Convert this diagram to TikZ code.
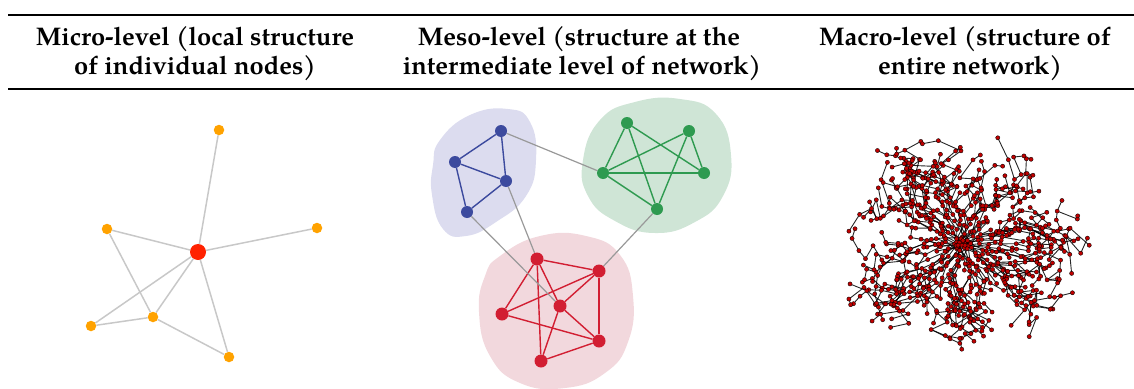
\documentclass[tikz,border=0pt]{standalone}
\usepackage{fontspec}
\setmainfont{texgyrepagella}[Extension=.otf,UprightFont=*-regular,BoldFont=*-bold]
\definecolor{orn}{HTML}{FFA200}
\definecolor{hub}{HTML}{FF2200}
\definecolor{ledge}{HTML}{C8C8C8}
\definecolor{bnode}{HTML}{3C4A9E}
\definecolor{gnode}{HTML}{2E9A50}
\definecolor{rnode}{HTML}{D21E32}
\definecolor{bblob}{HTML}{DCDCEF}
\definecolor{gblob}{HTML}{CFE5D6}
\definecolor{rblob}{HTML}{F2D8DD}
\definecolor{mdot}{HTML}{C00000}
\pgfdeclarelayer{blob}
\pgfdeclarelayer{bg}
\pgfsetlayers{blob,bg,main}
\newcount\mN \newcount\mPs \newcount\mPe \newcount\mNs
\tikzset{
  hdr/.style={font=\bfseries\fontsize{25.5}{30}\selectfont, inner sep=0pt, anchor=base},
  rulel/.style={line width=2.7pt},
  odot/.style={circle, fill=orn, inner sep=0pt, minimum size=10.5pt},
  hdot/.style={circle, fill=hub, inner sep=0pt, minimum size=16pt},
  gedge/.style={ledge, line width=1.5pt},
  bdot/.style={circle, fill=bnode, inner sep=0pt, minimum size=12pt},
  gdot/.style={circle, fill=gnode, inner sep=0pt, minimum size=12pt},
  rdot/.style={circle, fill=rnode, inner sep=0pt, minimum size=13pt},
  bedge/.style={bnode, line width=1.4pt},
  grnedge/.style={gnode, line width=1.4pt},
  redge/.style={rnode, line width=1.4pt},
  xedge/.style={gray!80, line width=1.2pt},
  medge/.style={black, line width=0.9pt, opacity=0.85},
  mnode/.style={fill=mdot, draw=black, line width=0.35pt},
}
\begin{document}
\begin{tikzpicture}[x=1pt,y=-1pt]
\useasboundingbox (0,0) rectangle (1134,388);
% ---------- header ----------
\draw[rulel] (8,15) coordinate (rt1) -- (1134,15) coordinate (rt2);
\draw[rulel] (8,89) coordinate (rb1) -- (1134,89) coordinate (rb2);
\node[hdr] (h1a) at (195,45) {Micro-level (local structure};
\node[hdr] (h1b) at (195,74) {of individual nodes)};
\node[hdr] (h2a) at (579,45) {Meso-level (structure at the};
\node[hdr] (h2b) at (582,74) {intermediate level of network)};
\node[hdr] (h3a) at (965,45) {Macro-level (structure of};
\node[hdr] (h3b) at (970,74) {entire network)};
% ---------- micro ----------
\node[hdot] (c) at (198,252) {};
\node[odot] (t) at (219,130) {};
\node[odot] (r) at (317,228) {};
\node[odot] (l) at (107,229) {};
\node[odot] (bl) at (91,326) {};
\node[odot] (ml) at (153,317) {};
\node[odot] (br) at (229,357) {};
\begin{pgfonlayer}{bg}
\foreach \a/\b in {c/t,c/r,c/l,c/bl,c/ml,c/br,l/ml,bl/ml,ml/br}
  \draw[gedge] (\a) -- (\b);
\end{pgfonlayer}
% ---------- meso ----------
\begin{pgfonlayer}{blob}
\fill[bblob] plot[smooth cycle, tension=0.8] coordinates {(440,140) (470,115) (508,109) (530,122) (536,160) (526,196) (496,222) (466,236) (443,229) (432,195) (433,165)};
\fill[gblob] plot[smooth cycle, tension=0.8] coordinates {(600,120) (635,102) (680,99) (716,114) (731,155) (723,196) (695,222) (655,233) (615,221) (588,196) (583,160)};
\fill[rblob] plot[smooth cycle, tension=0.8] coordinates {(500,256) (540,236) (586,236) (620,255) (633,296) (628,342) (605,373) (565,388) (520,383) (490,356) (479,312) (485,276)};
\end{pgfonlayer}
\node[bdot] (b1) at (501,131) {};
\node[bdot] (b2) at (455,162) {};
\node[bdot] (b3) at (506,181) {};
\node[bdot] (b4) at (467,212) {};
\node[gdot] (g1) at (627,123) {};
\node[gdot] (g2) at (689,131) {};
\node[gdot] (g3) at (603,173) {};
\node[gdot] (g4) at (704,173) {};
\node[gdot] (g5) at (657,209) {};
\node[rdot] (r1) at (537,259) {};
\node[rdot] (r2) at (599,271) {};
\node[rdot] (r3) at (502,314) {};
\node[rdot] (r4) at (560,306) {};
\node[rdot] (r5) at (599,341) {};
\node[rdot] (r6) at (541,361) {};
\begin{pgfonlayer}{bg}
\foreach \a/\b in {b1/b2,b1/b3,b2/b3,b2/b4,b3/b4}
  \draw[bedge] (\a) -- (\b);
\foreach \a/\b in {g1/g3,g1/g4,g1/g5,g2/g3,g2/g4,g2/g5,g3/g4,g3/g5}
  \draw[grnedge] (\a) -- (\b);
\foreach \a/\b in {r1/r2,r1/r3,r1/r4,r1/r6,r2/r3,r2/r4,r2/r5,r3/r5,r4/r5,r4/r6,r6/r5}
  \draw[redge] (\a) -- (\b);
\foreach \a/\b in {b1/g3,b3/r1,b4/r4,g5/r2}
  \draw[xedge] (\a) -- (\b);
\end{pgfonlayer}
% ---------- macro ----------
\pgfmathsetseed{5}
\coordinate (m1) at (963,241);
\global\mN=1 \global\mPs=1 \global\mPe=1
\foreach \cnt/\rad [count=\g] in {30/6, 55/20, 70/32, 85/44, 95/55, 105/65, 110/75, 100/85, 85/94, 60/103, 35/111, 18/118, 8/125}{%
  \global\mNs=\mN \global\advance\mNs by 1
  \pgfmathtruncatemacro{\nPrev}{\the\mPe-\the\mPs+1}%
  \foreach \k in {1,...,\cnt}{%
    \global\advance\mN by 1
    \edef\mName{\the\mN}%
    \ifcase\g
    \or
      \def\mPar{1}%
      \pgfmathsetmacro{\mAng}{360*rnd}%
      \pgfmathsetmacro{\mRad}{\rad*(0.2+1.4*rnd)}%
    \or
      \pgfmathtruncatemacro{\mPar}{\the\mPs + floor(\nPrev*rnd)}%
      \pgfmathsetmacro{\mAng}{(\k-0.5+0.8*rand)/\cnt*360 + 40}%
      \pgfmathsetmacro{\mRad}{\rad + 6*rand}%
    \else
      \pgfmathtruncatemacro{\mPar}{max(\the\mPs, min(\the\mPe, \the\mPs + floor((\k-0.5)/\cnt*\nPrev + 1.5*rand)))}%
      \pgfmathsetmacro{\mAng}{\csname mA\mPar\endcsname + 12*rand}%
      \pgfmathsetmacro{\mRad}{\rad + 6*rand}%
    \fi
    \pgfmathsetmacro{\mLob}{1 + 0.08*sin(3*\mAng+30) + 0.05*sin(5*\mAng+70)}%
    \pgfmathsetmacro{\mX}{963 + \mRad*\mLob*cos(\mAng)}%
    \pgfmathsetmacro{\mY}{243 + 0.9*\mRad*\mLob*sin(\mAng)}%
    \expandafter\xdef\csname mP\mName\endcsname{\mPar}%
    \expandafter\xdef\csname mA\mName\endcsname{\mAng}%
    \coordinate (m\mName) at (\mX,\mY);
  }%
  \global\mPs=\mNs \global\mPe=\mN
}
\xdef\mTotal{\the\mN}
\begin{pgfonlayer}{bg}
\foreach \i in {2,...,\mTotal}{%
  \edef\mQ{\csname mP\i\endcsname}%
  \draw[medge] (m\i) -- (m\mQ);
}
\end{pgfonlayer}
\foreach \i in {1,...,\mTotal}
  \fill[mnode] (m\i) circle (2.1);
\end{tikzpicture}
\end{document}
